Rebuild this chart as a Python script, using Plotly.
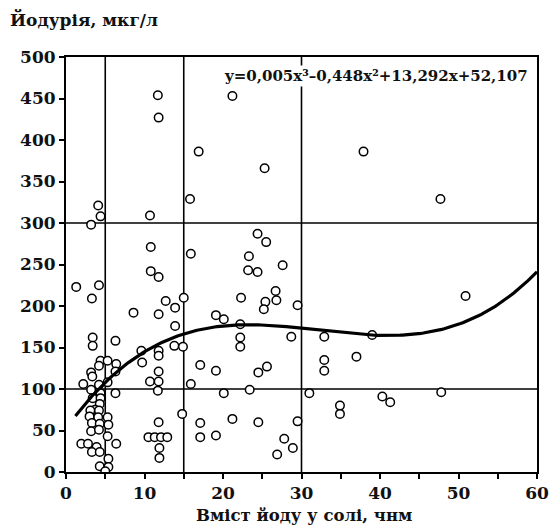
import numpy as np
import plotly.graph_objects as go

# Scatter data: salt iodine content (ppm) vs urinary iodine (mcg/L)
iodine_salt = [
    4.1, 4.4, 3.2, 10.7, 15.8, 10.8, 15.9, 10.8, 11.8, 1.3, 4.2, 3.3, 15.0, 12.7, 13.9, 8.6,
    11.8, 13.9, 3.4, 6.3, 3.4, 9.6, 11.8, 11.8, 13.8, 14.9, 4.4, 5.3, 4.2, 6.4, 9.7, 3.2,
    3.35, 6.3, 11.8, 10.7, 11.8, 11.7, 15.9, 2.2, 3.2, 4.2, 5.3, 4.4, 6.3, 3.4, 4.4, 4.3,
    3.7, 3.1, 4.2, 3.0, 4.1, 5.3, 3.3, 4.3, 5.4, 14.8, 11.8, 3.2, 4.2, 5.3, 1.95, 2.8,
    3.9, 3.3, 4.3, 6.4, 10.5, 11.3, 12.1, 12.9, 11.9, 11.9, 5.4, 4.3, 5.4, 5.0,
    24.4, 25.5, 23.3, 23.2, 24.4, 27.6, 22.3, 26.7, 26.8, 25.4, 25.2, 29.5, 19.1, 20.1,
    22.2, 22.2, 28.7, 32.9, 22.2, 17.1, 19.1, 24.5, 25.6, 32.9, 32.9, 37.0, 20.1, 23.4,
    31.0, 34.9, 34.9, 17.1, 21.2, 24.5, 29.5, 17.1, 19.1, 27.8, 28.9, 26.9, 50.9, 39.0,
    40.3, 41.3, 47.8, 11.7, 21.2, 11.8, 16.9, 25.3, 37.9, 47.7,
]
ioduria = [
    321, 308, 298, 309, 329, 271, 263, 242, 235, 223, 225, 209, 210, 206, 198, 192,
    190, 176, 162, 158, 152, 146, 146, 140, 152, 151, 134, 134, 128, 130, 132, 120,
    115, 121, 121, 109, 109, 98, 106, 106, 99, 105, 108, 95, 95, 89, 89, 82,
    75, 74, 74, 67, 66, 66, 59, 58, 57, 70, 60, 49, 51, 43, 34, 34,
    30, 24, 24, 34, 42, 42, 42, 42, 29, 17, 16, 7, 6, 1,
    287, 277, 260, 243, 241, 249, 210, 218, 207, 205, 196, 201, 189, 184,
    178, 162, 163, 163, 151, 129, 122, 120, 127, 135, 122, 139, 95, 99,
    95, 80, 70, 59, 64, 60, 61, 42, 44, 40, 29, 21, 212, 165,
    91, 84, 96, 454, 453, 427, 386, 366, 386, 329,
]

# Cubic trend (coefficients as drawn; leading term printed rounded as 0,005)
trend_coef = [0.00465, -0.448, 13.292, 52.107]
trend_range = [1.2, 60]
equation_text = "y=0,005x³–0,448x²+13,292x+52,107"

# Reference lines
vlines = [5, 15, 30]
hlines = [100, 300]

x_ticks = list(range(0, 61, 10))
y_ticks = list(range(0, 501, 50))

y_title = "Йодурія, мкг/л"
x_title = "Вміст йоду у солі, чнм"

FONT = "DejaVu Serif"
INK = "#111"

xs = np.linspace(trend_range[0], trend_range[1], 200)
ys = np.polyval(trend_coef, xs)

fig = go.Figure()
fig.add_trace(go.Scatter(
    x=iodine_salt, y=ioduria, mode="markers",
    marker=dict(symbol="circle", size=8.5, color="white",
                line=dict(color="black", width=1.5)),
    showlegend=False, hoverinfo="skip",
))
fig.add_trace(go.Scatter(
    x=xs, y=ys, mode="lines", line=dict(color="black", width=3.2),
    showlegend=False, hoverinfo="skip",
))

for v in vlines:
    fig.add_shape(type="line", xref="x", yref="paper", x0=v, x1=v, y0=0, y1=1,
                  line=dict(color="black", width=1.6), layer="below")
for h in hlines:
    fig.add_shape(type="line", xref="paper", yref="y", x0=0, x1=1, y0=h, y1=h,
                  line=dict(color="black", width=1.6), layer="below")

L, R, T, B = 66, 15, 57, 55
PW, PH = 552 - L - R, 527 - T - B  # plot area in pixels

fig.add_annotation(
    x=0.985, y=0.955, xref="paper", yref="paper", xanchor="right", yanchor="middle",
    text="<b>" + equation_text + "</b>", showarrow=False,
    font=dict(family=FONT, size=15, color=INK), bgcolor="white", borderpad=1,
)
fig.add_annotation(
    x=(8 - L) / PW, y=1 + (T - 19) / PH, xref="paper", yref="paper",
    text="<b>" + y_title + "</b>", showarrow=False, xanchor="left", yanchor="middle",
    font=dict(family=FONT, size=17, color=INK),
)
fig.add_annotation(
    x=(304 - L) / PW, y=-(515 - (527 - B)) / PH, xref="paper", yref="paper",
    text="<b>" + x_title + "</b>", showarrow=False, xanchor="center", yanchor="middle",
    font=dict(family=FONT, size=16.5, color=INK),
)

fig.update_layout(
    width=552, height=527,
    margin=dict(l=L, r=R, t=T, b=B),
    paper_bgcolor="white", plot_bgcolor="white",
    font=dict(family=FONT, color=INK),
)
fig.update_xaxes(
    range=[0, 60], tickvals=x_ticks, ticktext=[f"<b>{t}</b>" for t in x_ticks],
    ticks="outside", ticklen=5, tickwidth=1.5, tickcolor="black",
    minor=dict(dtick=5, tick0=0, ticks="outside", ticklen=5, tickwidth=1.5, tickcolor="black"),
    showline=True, linecolor="black", linewidth=2, mirror=True,
    showgrid=False, zeroline=False, automargin=False,
    tickfont=dict(family=FONT, size=17, color=INK),
)
fig.update_yaxes(
    range=[0, 500], tickvals=y_ticks, ticktext=[f"<b>{t}</b>" for t in y_ticks],
    ticks="outside", ticklen=5, tickwidth=1.5, tickcolor="black",
    showline=True, linecolor="black", linewidth=2, mirror=True,
    showgrid=False, zeroline=False, automargin=False,
    tickfont=dict(family=FONT, size=17, color=INK),
)

fig.write_html("out.html")
